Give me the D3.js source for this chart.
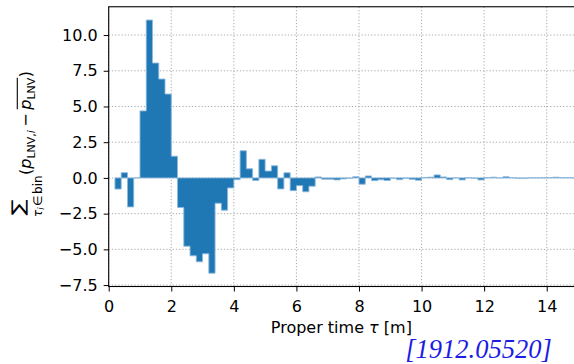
<!DOCTYPE html>
<html><head><meta charset="utf-8">
<script src="https://cdn.jsdelivr.net/npm/d3@7"></script>
<style>
html,body{margin:0;padding:0;background:#fff;}
svg{display:block;font-family:"DejaVu Sans",sans-serif;}
</style></head>
<body>
<svg id="chart" width="574" height="364"></svg>
<script>
// ---- data ----
const binWidth = 0.2;
const binStart = 0.2;
const values = [
  -0.78, 0.37, -2.03, 0.0, 4.69, 11.05, 8.04, 6.92, 5.87, 1.52,
  -2.07, -4.78, -5.45, -5.87, -5.31, -6.67, -1.77, -2.26, -0.70, -0.12,
  1.90, 0.64, -0.18, 1.30, 0.48, 0.85, -0.77, 0.36, -0.89, -0.54,
  -0.97, -0.58, 0.07, -0.09, -0.09, -0.14, -0.07, -0.02, 0.08, -0.44,
  0.14, -0.19, -0.13, -0.18, -0.03, -0.12, -0.02, -0.10, -0.16, 0.03,
  0.05, 0.21, 0.07, -0.12, 0.0, -0.14, 0.01, -0.02, -0.14, 0.01,
  0.05, 0.0, 0.08, 0.01, -0.02, -0.03, 0.01, 0.0, 0.01, 0.02,
  0.05, 0.03, 0.02, 0.0
];
const xTicks = [0, 2, 4, 6, 8, 10, 12, 14];
const yTicks = [-7.5, -5.0, -2.5, 0.0, 2.5, 5.0, 7.5, 10.0];
const xLabel = "Proper time ";
const citation = "[1912.05520]";

// ---- layout ----
const svg = d3.select("#chart");
const x = d3.scaleLinear().domain([0, 15]).range([108.7, 578.0]);
const y = d3.scaleLinear().domain([-7.6, 11.98]).range([286.5, 6.75]);
const fmt = v => d3.format(".1f")(v).replace("-", "\u2212");

// grid
const grid = svg.append("g");
grid.selectAll("line.gx").data(xTicks).join("line")
  .attr("x1", d => x(d)).attr("x2", d => x(d))
  .attr("y1", y.range()[0]).attr("y2", y.range()[1])
  .attr("stroke", "#a8a8a8").attr("stroke-width", 1).attr("stroke-dasharray", "1.2,2");
grid.selectAll("line.gy").data(yTicks).join("line")
  .attr("y1", d => y(d)).attr("y2", d => y(d))
  .attr("x1", x.range()[0]).attr("x2", x.range()[1])
  .attr("stroke", "#a8a8a8").attr("stroke-width", 1).attr("stroke-dasharray", "1.2,2");

// step-filled histogram
const pts = values.map((v, i) => ({x: binStart + i * binWidth, v}));
pts.push({x: binStart + values.length * binWidth, v: values[values.length - 1]});
const area = d3.area()
  .x(d => x(d.x)).y0(y(0)).y1(d => y(d.v))
  .curve(d3.curveStepAfter);
svg.append("path").attr("d", area(pts))
  .attr("fill", "#1f77b4").attr("stroke", "#8db9dd").attr("stroke-width", 0.9)
  .attr("stroke-linejoin", "miter");

// axes
const ax = svg.append("g").attr("transform", `translate(0,${y.range()[0]})`)
  .call(d3.axisBottom(x).tickValues(xTicks).tickFormat(d3.format("d")).tickSize(5).tickPadding(9));
const ay = svg.append("g").attr("transform", `translate(${x.range()[0]},0)`)
  .call(d3.axisLeft(y).tickValues(yTicks).tickFormat(fmt).tickSize(5).tickPadding(6));
[ax, ay].forEach(g => {
  g.select(".domain").remove();
  g.selectAll("text").attr("font-size", 16).attr("font-family", "DejaVu Sans").attr("fill", "#000");
  g.selectAll("line").attr("stroke", "#000").attr("stroke-width", 1);
});
// spines
const frame = svg.append("g").attr("fill", "none").attr("stroke", "#000").attr("stroke-width", 1.1);
frame.append("rect").attr("x", x.range()[0]).attr("y", y.range()[1])
  .attr("width", x.range()[1] - x.range()[0]).attr("height", y.range()[0] - y.range()[1]);

// x label
const xl = svg.append("text").attr("x", (x.range()[0] + x.range()[1]) / 2 - 2).attr("y", 333)
  .attr("text-anchor", "middle").attr("font-size", 16);
xl.append("tspan").text(xLabel);
xl.append("tspan").attr("font-style", "italic").text("\u03c4");
xl.append("tspan").text(" [m]");

// citation
svg.append("text").attr("x", 478.5).attr("y", 357.5).attr("text-anchor", "middle")
  .attr("font-family", "Liberation Serif").attr("font-style", "italic")
  .attr("font-size", 26.5).attr("fill", "#1c1ce6").text(citation);

// y label (rotated math)
const gl = svg.append("g").attr("transform", "translate(31,217) rotate(-90)");
// sigma fitted to target glyph box using canvas tight metrics
{
  const c = document.createElement("canvas").getContext("2d");
  c.font = "20px DejaVu Sans";
  const m = c.measureText("\u2211");
  const gw = m.actualBoundingBoxLeft + m.actualBoundingBoxRight;
  const gh = m.actualBoundingBoxAscent + m.actualBoundingBoxDescent;
  const tw = 16.5, th = 16.6; // target size
  const sx = tw / gw, sy = th / gh;
  const u0 = 1.8, vTop = -20.3;
  gl.append("text").text("\u2211").attr("font-size", 20)
    .attr("transform", `translate(${u0 + m.actualBoundingBoxLeft * sx},${vTop + m.actualBoundingBoxAscent * sy}) scale(${sx},${sy})`);
}
// limits under sigma
const sub = gl.append("text").attr("x", 0).attr("y", 10.5).attr("font-size", 12);
sub.append("tspan").attr("font-style", "italic").text("\u03c4");
sub.append("tspan").attr("font-style", "italic").attr("font-size", 8.5).attr("dy", 2).text("i");
sub.append("tspan").attr("dy", -2).attr("dx", 1.5).text("\u2208");
sub.append("tspan").attr("dx", 1.5).text("bin");
// parenthetical
const pt = gl.append("text").attr("x", 42).attr("y", 0).attr("font-size", 16);
pt.append("tspan").text("(");
pt.append("tspan").attr("font-style", "italic").text("p");
pt.append("tspan").attr("font-size", 11).attr("dy", 3.5).text("LNV");
pt.append("tspan").attr("font-size", 11).text(",");
pt.append("tspan").attr("font-size", 11).attr("font-style", "italic").text("i");
pt.append("tspan").attr("dy", -3.5).attr("dx", 3.5).text("\u2212");
pt.append("tspan").attr("dx", 3.5).attr("font-style", "italic").text("p");
pt.append("tspan").attr("font-size", 11).attr("dy", 3.5).text("LNV");
pt.append("tspan").attr("dy", -3.5).attr("dx", 0.5).text(")");
{
  const n = pt.node();
  const s = n.getStartPositionOfChar(8).x;
  const e = n.getEndPositionOfChar(11).x;
  gl.append("line").attr("x1", s + 0.5).attr("x2", e).attr("y1", -13.7).attr("y2", -13.7)
    .attr("stroke", "#000").attr("stroke-width", 1.1);
}
</script>
</body></html>
